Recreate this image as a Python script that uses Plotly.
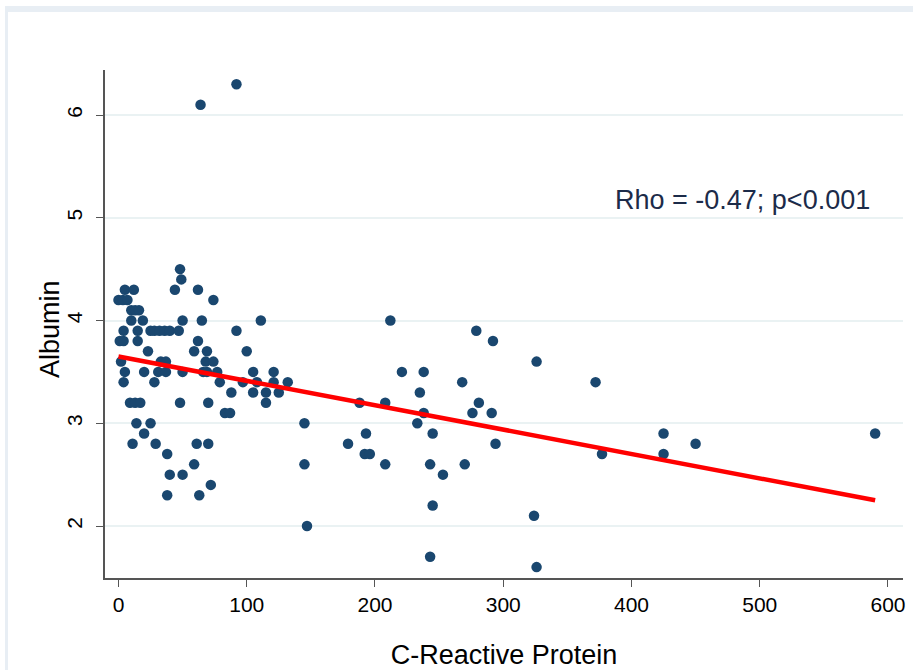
import plotly.graph_objects as go

# C-Reactive Protein (x) and Albumin (y) values
crp = [92, 64,
       48, 49,
       5, 12, 44, 62,
       0, 3.5, 7, 74,
       10, 13, 16,
       10, 19, 50, 65, 111, 212,
       4, 15, 25, 28, 32, 36, 40, 47, 92, 279,
       1, 4, 15, 62, 292,
       23, 59, 69, 100,
       2, 33, 37, 68, 74, 326,
       5, 20, 31, 37, 50, 66, 69, 77, 105, 121, 221, 238,
       4, 28, 79, 97, 108, 121, 132, 268, 372,
       88, 105, 115, 125, 235,
       9, 13, 17, 48, 70, 115, 188, 208, 281,
       83, 87, 238, 276, 291,
       14, 25, 145, 233,
       20, 193, 245, 425, 590,
       11, 29, 61, 70, 179, 294, 450,
       38, 192, 196, 377, 425,
       59, 145, 208, 243, 270,
       40, 50, 253,
       72,
       38, 63,
       245, 324, 147, 243, 326]
albumin = [6.3, 6.1,
           4.5, 4.4,
           4.3, 4.3, 4.3, 4.3,
           4.2, 4.2, 4.2, 4.2,
           4.1, 4.1, 4.1,
           4.0, 4.0, 4.0, 4.0, 4.0, 4.0,
           3.9, 3.9, 3.9, 3.9, 3.9, 3.9, 3.9, 3.9, 3.9, 3.9,
           3.8, 3.8, 3.8, 3.8, 3.8,
           3.7, 3.7, 3.7, 3.7,
           3.6, 3.6, 3.6, 3.6, 3.6, 3.6,
           3.5, 3.5, 3.5, 3.5, 3.5, 3.5, 3.5, 3.5, 3.5, 3.5, 3.5, 3.5,
           3.4, 3.4, 3.4, 3.4, 3.4, 3.4, 3.4, 3.4, 3.4,
           3.3, 3.3, 3.3, 3.3, 3.3,
           3.2, 3.2, 3.2, 3.2, 3.2, 3.2, 3.2, 3.2, 3.2,
           3.1, 3.1, 3.1, 3.1, 3.1,
           3.0, 3.0, 3.0, 3.0,
           2.9, 2.9, 2.9, 2.9, 2.9,
           2.8, 2.8, 2.8, 2.8, 2.8, 2.8, 2.8,
           2.7, 2.7, 2.7, 2.7, 2.7,
           2.6, 2.6, 2.6, 2.6, 2.6,
           2.5, 2.5, 2.5,
           2.4,
           2.3, 2.3,
           2.2, 2.1, 2.0, 1.7, 1.6]

# Fitted line end points
fit_x = [0, 590]
fit_y = [3.65, 2.25]

x_ticks = [0, 100, 200, 300, 400, 500, 600]
y_ticks = [2, 3, 4, 5, 6]

FONT = "Arial, Liberation Sans, sans-serif"

fig = go.Figure()
fig.add_trace(go.Scatter(x=crp, y=albumin, mode="markers",
                         marker=dict(color="#1A476F", size=10.5, line=dict(width=0)),
                         showlegend=False))
fig.add_trace(go.Scatter(x=fit_x, y=fit_y, mode="lines",
                         line=dict(color="#FF0000", width=4.5),
                         showlegend=False))

fig.add_annotation(x=385.6, y=5.17, xref="x", yref="y", text="Rho = -0.47; p<0.001",
                   showarrow=False, xanchor="left", yanchor="middle",
                   font=dict(family=FONT, size=27, color="#1C2B49"))

# y-axis title
fig.add_annotation(x=-0.069, y=0.49, xref="paper", yref="paper", text="Albumin",
                   showarrow=False, textangle=-90, xanchor="center", yanchor="middle",
                   font=dict(family=FONT, size=27, color="#000000"))

# light frame of graph region
band = "#E8EEF4"
fig.add_shape(type="rect", xref="paper", yref="paper", x0=-0.1253, x1=1.02,
              y0=1.114, y1=1.126, fillcolor=band, line=dict(width=0), layer="below")
fig.add_shape(type="rect", xref="paper", yref="paper", x0=-0.1253, x1=-0.1216,
              y0=-0.19, y1=1.126, fillcolor=band, line=dict(width=0), layer="below")

fig.update_layout(
    width=913, height=670,
    margin=dict(l=105, r=10, t=70, b=92),
    paper_bgcolor="white", plot_bgcolor="white",
    font=dict(family=FONT, color="#000000"),
    xaxis=dict(range=[-10.5, 611.7], tickmode="array", tickvals=x_ticks,
               ticks="outside", ticklen=7, tickcolor="#555555", tickwidth=1,
               showline=True, linecolor="#555555", linewidth=1.5,
               showgrid=False, zeroline=False, automargin=False,
               tickfont=dict(size=21, family=FONT),
               title=dict(text="C-Reactive Protein", font=dict(size=27, family=FONT), standoff=30)),
    yaxis=dict(range=[1.494, 6.438], tickmode="array", tickvals=y_ticks,
               ticks="outside", ticklen=7, tickcolor="#555555", tickwidth=1,
               showline=True, linecolor="#555555", linewidth=1.5,
               showgrid=True, gridcolor="#EAF2F3", gridwidth=1.5,
               zeroline=False, tickangle=-90, automargin=False,
               ticklabelstandoff=6,
               tickfont=dict(size=21, family=FONT)),
)

fig.write_html("out.html", config={"displayModeBar": False},
               post_script="document.body.style.margin='0';document.body.style.overflow='hidden';")
